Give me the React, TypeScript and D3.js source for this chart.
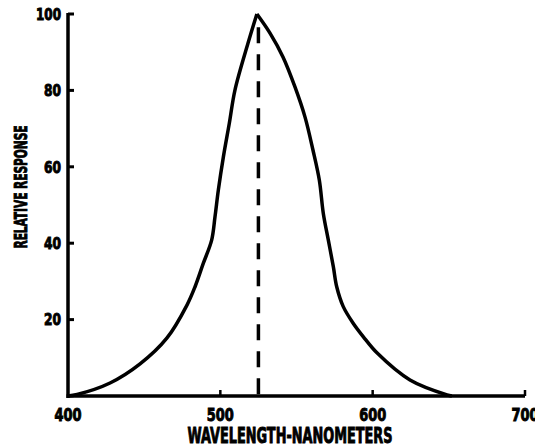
import React from "react";
import * as d3 from "d3";

// values
const leftWavelength = [400, 406, 427.6, 447.3, 465, 478.1, 483.4, 488.8, 494.3, 496.5, 498.7, 502, 505.9, 509.6, 518.2, 524];
const leftResponse = [0, 0.4, 3.4, 8.4, 15.2, 23.8, 28.6, 34.7, 40.8, 46.9, 53.9, 62.6, 71.4, 80.1, 92.4, 100];
const rightWavelength = [524, 532.6, 541.2, 549, 555.6, 560.8, 565, 567.6, 570.9, 574.2, 576.4, 580.7, 587.3, 593.9, 602.8, 624.5, 648.8, 652];
const rightResponse = [100, 95, 88.7, 80.9, 73, 64.4, 56.5, 47.8, 40.8, 33.8, 28.6, 23.4, 19, 15.5, 11.3, 4.2, 0.3, 0];
const peakWavelength = 525;
const xTicks = [400, 500, 600, 700];
const yTicks = [20, 40, 60, 80, 100];

const W = 535;
const H = 447;
const FONT = "'DejaVu Sans Condensed', 'DejaVu Sans', sans-serif";

export default function App() {
  const x = d3.scaleLinear().domain([400, 700]).range([68, 525]);
  const y = d3.scaleLinear().domain([0, 100]).range([396, 14]);

  const line = d3
    .line<[number, number]>()
    .x((d) => x(d[0]))
    .y((d) => y(d[1]))
    .curve(d3.curveCatmullRom.alpha(0.5));

  const left = line(leftWavelength.map((w, i) => [w, leftResponse[i]]));
  const right = line(rightWavelength.map((w, i) => [w, rightResponse[i]]));

  const textProps = {
    fontFamily: FONT,
    fontWeight: "bold" as const,
    fill: "#000",
    stroke: "#000",
    strokeWidth: 0.9,
    lengthAdjust: "spacingAndGlyphs" as const,
  };

  return (
    <svg
      width={W}
      height={H}
      style={{ position: "absolute", left: 0, top: 0, background: "#fff" }}
    >
      {/* axes */}
      <line x1={x(400)} x2={x(400)} y1={y(100) - 1} y2={y(0) + 2} stroke="#000" strokeWidth={3.5} />
      <line x1={x(400) - 1.5} x2={x(700)} y1={y(0)} y2={y(0)} stroke="#000" strokeWidth={3.5} />

      {yTicks.map((t) => (
        <g key={"y" + t}>
          <line x1={x(400)} x2={x(400) + 6} y1={y(t)} y2={y(t)} stroke="#000" strokeWidth={3} />
          <text
            {...textProps}
            x={61}
            y={y(t)}
            dy="0.36em"
            textAnchor="end"
            fontSize={16}
            textLength={t === 100 ? 25 : 17}
          >
            {t}
          </text>
        </g>
      ))}

      {xTicks.map((t) => (
        <g key={"x" + t}>
          {t > 400 && (
            <line x1={x(t)} x2={x(t)} y1={y(0)} y2={y(0) - 6} stroke="#000" strokeWidth={2.5} />
          )}
          <text {...textProps} x={x(t)} y={421} textAnchor="middle" fontSize={17} textLength={27}>
            {t}
          </text>
        </g>
      ))}

      <text {...textProps} x={290} y={443} textAnchor="middle" fontSize={21} textLength={205}>
        WAVELENGTH-NANOMETERS
      </text>

      <text
        {...textProps}
        transform={`translate(27, 187) rotate(-90)`}
        textAnchor="middle"
        fontSize={18}
        textLength={123}
      >
        RELATIVE RESPONSE
      </text>

      {/* peak marker */}
      <line
        x1={x(peakWavelength)}
        x2={x(peakWavelength)}
        y1={y(96.5)}
        y2={y(0)}
        stroke="#000"
        strokeWidth={3.5}
        strokeDasharray="16 11"
      />

      <path d={left ?? ""} fill="none" stroke="#000" strokeWidth={3.5} strokeLinejoin="round" />
      <path d={right ?? ""} fill="none" stroke="#000" strokeWidth={3.5} strokeLinejoin="round" />
    </svg>
  );
}
